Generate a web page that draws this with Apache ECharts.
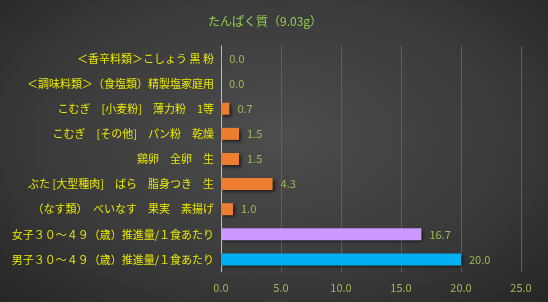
<!DOCTYPE html>
<html><head><meta charset="utf-8">
<script src="https://cdn.jsdelivr.net/npm/echarts@6/dist/echarts.min.js"></script>
<style>html,body{margin:0;padding:0;}#c{width:548px;height:302px;background:radial-gradient(ellipse at 50% 45%,#4d4d4d 0%,#3a3a3a 60%,#262626 100%);}</style>
</head><body><div id="c"></div>
<script>
const titleText = 'たんぱく質（9.03g）';
const categories = [
  '＜香辛料類＞こしょう 黒 粉',
  '＜調味料類＞（食塩類）精製塩家庭用',
  'こむぎ　[小麦粉]　薄力粉　1等',
  'こむぎ　[その他]　パン粉　乾燥',
  '鶏卵　全卵　生',
  'ぶた [大型種肉]　ばら　脂身つき　生',
  '（なす類）　べいなす　果実　素揚げ',
  '女子３０～４９（歳）推進量/１食あたり',
  '男子３０～４９（歳）推進量/１食あたり'
];
const values = [0.02, 0.0, 0.7, 1.5, 1.5, 4.3, 1.0, 16.7, 20.0];
const barColors = ['#ed7d31','#ed7d31','#ed7d31','#ed7d31','#ed7d31','#ed7d31','#ed7d31','#cc99ff','#00b0f0'];
const xTicks = { min: 0, max: 25, interval: 5 };

const chart = echarts.init(document.getElementById('c'), null, {renderer:'canvas'});
const font = "'Noto Sans CJK JP', sans-serif";
chart.setOption({
  backgroundColor: 'transparent',
  title: { text: titleText, left: 203, top: 10, textStyle: { color: '#92d050', fontSize: 12, fontWeight: 'normal', fontFamily: font } },
  grid: { left: 221, right: 27, top: 46, bottom: 30, containLabel: false },
  xAxis: {
    type: 'value', min: xTicks.min, max: xTicks.max, interval: xTicks.interval,
    axisLabel: { color: '#9bbb59', fontSize: 11, fontFamily: font, formatter: v => v.toFixed(1), margin: 10 },
    splitLine: { lineStyle: { color: '#5f5f5f', width: 1 } },
    axisLine: { show: false }, axisTick: { show: false }
  },
  yAxis: {
    type: 'category', data: categories, inverse: true,
    axisLabel: { color: '#e8e800', fontSize: 11, fontFamily: font, margin: 7 },
    axisLine: { show: true, lineStyle: { color: '#bfbfbf', width: 1 } },
    axisTick: { show: false }
  },
  series: [{
    type: 'bar', barWidth: 12,
    data: values.map((v, i) => ({ value: v, itemStyle: { color: barColors[i] } })),
    itemStyle: { shadowColor: 'rgba(0,0,0,0.6)', shadowBlur: 3, shadowOffsetX: 2, shadowOffsetY: 2 },
    label: { show: true, position: 'right', distance: 8, color: '#9bbb59', fontSize: 11, fontFamily: font, formatter: p => p.value.toFixed(1) },
    animation: false
  }],
  animation: false
});
</script></body></html>
